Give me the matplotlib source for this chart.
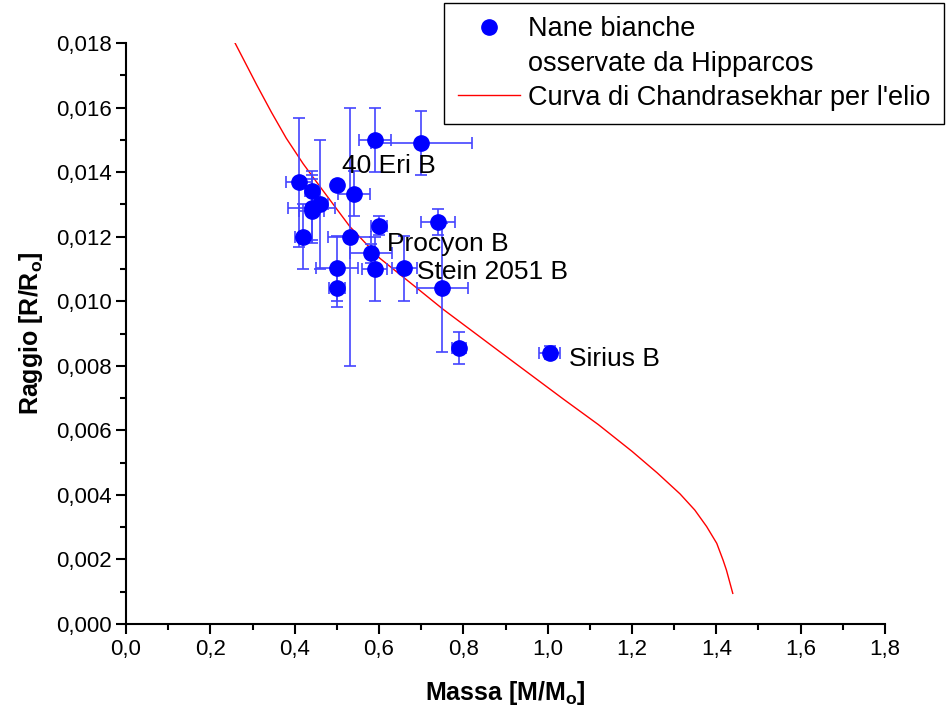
import matplotlib
matplotlib.use("Agg")
import matplotlib.pyplot as plt
from matplotlib.lines import Line2D
from matplotlib.ticker import MultipleLocator, FuncFormatter

plt.rcParams['font.family'] = ['Liberation Sans', 'DejaVu Sans']

# white dwarfs observed by Hipparcos (mass in M_sun, radius in R_sun)
mass = [0.59, 0.70, 0.41, 0.44, 0.50, 0.54, 0.46, 0.44, 0.44, 0.42, 0.53,
        0.60, 0.74, 0.58, 0.50, 0.59, 0.66, 0.75, 0.50, 0.79, 1.005]
radius = [0.0150, 0.0149, 0.01368, 0.01342, 0.01360, 0.01333, 0.01300, 0.01290,
          0.01280, 0.01200, 0.01200, 0.01234, 0.01246, 0.01148, 0.01102, 0.01100,
          0.01102, 0.01042, 0.01042, 0.00854, 0.00841]
mass_err = [0.038, 0.12, 0.03, 0.015, 0.01, 0.038, 0.02, 0.055, 0.03, 0.02, 0.05,
            0.02, 0.04, 0.05, 0.05, 0.03, 0.03, 0.06, 0.019, 0.017, 0.025]
radius_err = [0.001, 0.001, 0.002, 0.0006, 0.0001, 0.0007, 0.002, 0.001, 0.001,
              0.001, 0.004, 0.0003, 0.0004, 0.0003, 0.001, 0.001, 0.001, 0.002,
              0.0006, 0.0005, 0.0002]

# named stars
star_names = ['40 Eri B', 'Procyon B', 'Stein 2051 B', 'Sirius B']
star_x = [0.512, 0.619, 0.69, 1.05]
star_y = [0.01419, 0.01177, 0.0109, 0.00821]

# Chandrasekhar mass-radius relation for helium
curve_m = [0.2585, 0.31, 0.345, 0.38, 0.42, 0.46, 0.531, 0.602, 0.681, 0.752, 0.839,
           0.887, 1.037, 1.12, 1.2, 1.26, 1.314, 1.349, 1.377, 1.401, 1.416, 1.424, 1.439]
curve_r = [0.0180, 0.0167, 0.01585, 0.01505, 0.01426, 0.01355, 0.01231, 0.01133,
           0.01050, 0.00975, 0.0089, 0.00843, 0.00697, 0.00618, 0.00535, 0.00468,
           0.00403, 0.00353, 0.00302, 0.0025, 0.00198, 0.00167, 0.00095]

fig = plt.figure(figsize=(9.47, 7.13), dpi=100)
ax = fig.add_axes([0.1331, 0.1248, 0.8014, 0.8149])

ax.plot(curve_m, curve_r, color='red', lw=1)
ax.errorbar(mass, radius, xerr=mass_err, yerr=radius_err, fmt='o', color='blue',
            ecolor='#4444ff', elinewidth=1.2, capsize=4, capthick=1.2, markersize=11)

for name, x, y in zip(star_names, star_x, star_y):
    ax.text(x, y, name, fontsize=19, ha='left', va='center')

ax.set_xlim(0, 1.8)
ax.set_ylim(0, 0.018)
ax.xaxis.set_major_locator(MultipleLocator(0.2))
ax.xaxis.set_minor_locator(MultipleLocator(0.1))
ax.yaxis.set_major_locator(MultipleLocator(0.002))
ax.yaxis.set_minor_locator(MultipleLocator(0.001))
ax.xaxis.set_major_formatter(FuncFormatter(lambda v, p: ('%.1f' % v).replace('.', ',')))
ax.yaxis.set_major_formatter(FuncFormatter(lambda v, p: ('%.3f' % v).replace('.', ',')))

for s in ['top', 'right']:
    ax.spines[s].set_visible(False)
for s in ['left', 'bottom']:
    ax.spines[s].set_linewidth(1.5)
ax.tick_params(which='major', length=7, width=1.5, labelsize=16, direction='out')
ax.tick_params(which='minor', length=4, width=1.5, direction='out')

ax.set_xlabel(r'Massa [M/M$_\mathregular{o}$]', fontsize=18, fontweight='bold', labelpad=14)
ax.set_ylabel(r'Raggio [R/R$_\mathregular{o}$]', fontsize=18, fontweight='bold', labelpad=8)

handles = [Line2D([], [], marker='o', color='blue', ls='none', markersize=11),
           Line2D([], [], ls='none'),
           Line2D([], [], color='red', lw=1)]
labels = ['Nane bianche', 'osservate da Hipparcos', "Curva di Chandrasekhar per l'elio"]
leg = fig.legend(handles, labels, loc='upper right', bbox_to_anchor=(0.997, 0.996),
                 fontsize=19.5, fancybox=False, framealpha=1, edgecolor='black',
                 handlelength=2.3, handletextpad=0.3, labelspacing=0.3, borderpad=0.5,
                 borderaxespad=0)
leg.get_frame().set_linewidth(1)

fig.savefig('out.png', dpi=100)
